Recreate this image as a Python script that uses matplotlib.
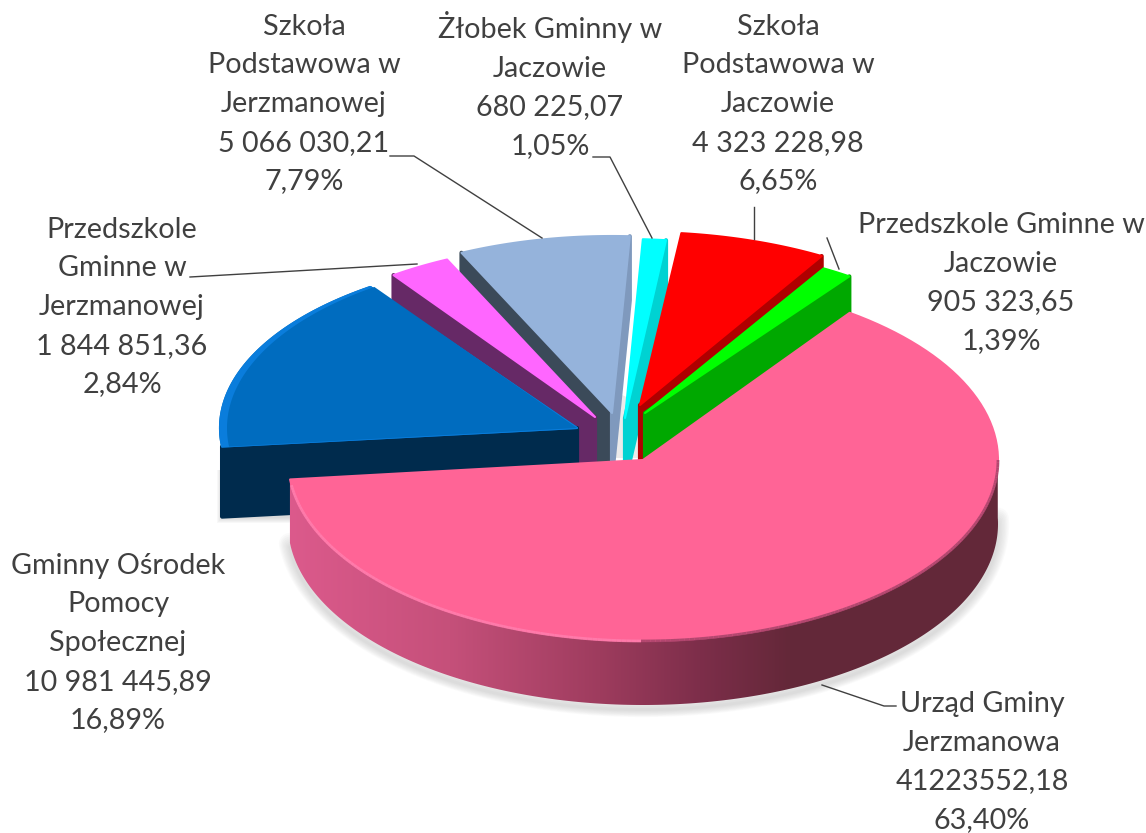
import numpy as np
import matplotlib
matplotlib.use('Agg')
import matplotlib.pyplot as plt
from matplotlib.colors import to_rgb
from matplotlib.patches import Polygon
from matplotlib.collections import LineCollection

plt.rcParams['font.family'] = ['Lato', 'DejaVu Sans']

names = ['Urząd Gminy\nJerzmanowa', 'Gminny Ośrodek\nPomocy\nSpołecznej',
         'Przedszkole\nGminne w\nJerzmanowej', 'Szkoła\nPodstawowa w\nJerzmanowej',
         'Żłobek Gminny w\nJaczowie', 'Szkoła\nPodstawowa w\nJaczowie',
         'Przedszkole Gminne w\nJaczowie']
values = [41223552.18, 10981445.89, 1844851.36, 5066030.21, 680225.07, 4323228.98, 905323.65]
value_text = ['41223552,18', '10 981 445,89', '1 844 851,36', '5 066 030,21',
              '680 225,07', '4 323 228,98', '905 323,65']
percent_text = ['63,40%', '16,89%', '2,84%', '7,79%', '1,05%', '6,65%', '1,39%']

# look of the exploded slices, same order as values
centers = [(643, 460), (577, 428), (595, 417), (612, 413), (625, 418), (640, 405), (645, 413)]
radii_x = [355, 357, 348, 354, 354, 357, 351]
radii_y = [181, 173, 174, 177, 179, 173, 168]
depths = [64, 70, 62, 64, 64, 60, 64]
top_colors = ['#FF6496', '#006CBF', '#FF66FF', '#95B3DB', '#00FFFF', '#FF0000', '#00FF00']
# None where the cut face is turned away from the viewer
left_colors = [None, '#002B4D', '#662966', '#3B4A59', None, None, None]
right_colors = [None, None, None, '#7F99BD', '#00D2D2', '#AF0000', '#00A800']
draw_order = [3, 4, 5, 2, 6, 1, 0]
START = 54.4

label_pos = [(982, 762), (118, 643), (122, 307), (304, 104), (550, 85), (778, 104), (1001, 283)]
leaders = [[(822, 685), (884, 706), (896, 706)],
           [],
           [(190, 277), (417, 264)],
           [(390, 156), (414, 156), (542, 238)],
           [(593, 157), (610, 157), (652, 238)],
           [(754, 207), (754, 239)],
           [(827, 238), (839, 269)]]


def rim(i, a, b, n=120, cut=0):
    t = np.radians(np.linspace(a, b, n))
    x = centers[i][0] + (radii_x[i] - cut) * np.cos(t)
    y = centers[i][1] - radii_y[i] * np.sin(t)
    return np.column_stack([x, y])


def wall_color(x):
    # shading of the big slice side, light on the left, dark on the right
    xs = [288, 450, 600, 700, 790, 1000]
    cs = [to_rgb(c) for c in ['#DC5A8C', '#C5507A', '#9E3C5E', '#7D2E4A', '#642839', '#632839']]
    return [np.interp(x, xs, [c[k] for c in cs]) for k in range(3)]


fig = plt.figure(figsize=(11.46, 8.33), dpi=100)
ax = fig.add_axes([0, 0, 1, 1])
ax.axis('off')

# angles come from the values
fracs = np.array(values) / sum(values)
ends = START - np.cumsum(fracs) * 360
starts = np.concatenate([[START], ends[:-1]])

# soft shadows
big = rim(0, 186, 362) + [0, depths[0]]
for k in range(8):
    ax.add_patch(Polygon(big + [0, 1 + k * 0.5], closed=True, fc='none', ec='#808080',
                         lw=16 - 2 * k, alpha=0.035, joinstyle='round', zorder=1))
for k in range(6):
    ax.add_patch(Polygon([(222 - k, 470), (222 - k, 518 + k), (300, 518 + k), (300, 470)],
                         closed=True, fc='#808080', ec='none', alpha=0.05, zorder=1))

ax.add_patch(Polygon([(614, 458), (645, 458), (645, 405), (622, 395)], closed=True,
                     fc='#EBEBEB', ec='none', zorder=1))

z = 2
for i in draw_order:
    a, b = ends[i], starts[i]  # clockwise, so the end angle is the right hand edge
    cx, cy = centers[i]
    d = np.array([0, depths[i]])
    c = np.array([cx, cy])
    outer = rim(i, a, b)
    # cut faces
    for p, col in ((outer[-1], left_colors[i]), (outer[0], right_colors[i])):
        if col is None:
            continue
        ax.add_patch(Polygon([p, c, c + d, p + d], closed=True, fc=col, ec=col, lw=3,
                             joinstyle='round', zorder=z))
    # outer side, only the big slice shows it
    if i == 0:
        side = rim(i, 186, 362, 260)
        wall = Polygon(np.vstack([side, (side + d)[::-1]]), closed=True, fc='none', ec='none',
                       zorder=z)
        ax.add_patch(wall)
        xs = np.linspace(280, 1004, 724)
        grad = np.array([wall_color(x) for x in xs])[None, :, :]
        im = ax.imshow(grad, extent=(280, 1004, 760, 400), aspect='auto', zorder=z)
        im.set_clip_path(wall)
    # top face
    top = np.vstack([c, outer])
    ax.add_patch(Polygon(top, closed=True, fc=top_colors[i], ec=top_colors[i], lw=1.5,
                         joinstyle='round', zorder=z))
    if i == 1:
        # lit edge of the blue slice
        ax.add_patch(Polygon(top, closed=True, fc='#0A7DDC', ec='#0A7DDC', lw=1.5,
                             joinstyle='round', zorder=z))
        ax.add_patch(Polygon(np.vstack([c, rim(i, a, b, cut=7)]), closed=True,
                             fc=top_colors[i], ec='none', zorder=z))
    if i == 0:
        edge = rim(i, 188, 360, 220)
        segs = np.stack([edge[:-1], edge[1:]], axis=1)
        cols = []
        for s in segs:
            x = s[0][0]
            if x < 640:
                cols.append('#FF80B0')
            else:
                cols.append('#A04066')
        ax.add_collection(LineCollection(segs, colors=cols, linewidths=2, alpha=0.8, zorder=z))
    z += 1

# leader lines and labels
for line in leaders:
    if line:
        xs, ys = zip(*line)
        ax.plot(xs, ys, color='#404040', lw=1, zorder=30)

for i in range(len(values)):
    txt = names[i] + '\n' + value_text[i] + '\n' + percent_text[i]
    ax.text(label_pos[i][0], label_pos[i][1], txt, ha='center', va='center', color='#404040',
            fontsize=20.7, linespacing=1.6, zorder=31)

ax.set_xlim(0, 1146)
ax.set_ylim(833, 0)

fig.savefig('out.png', dpi=100)
